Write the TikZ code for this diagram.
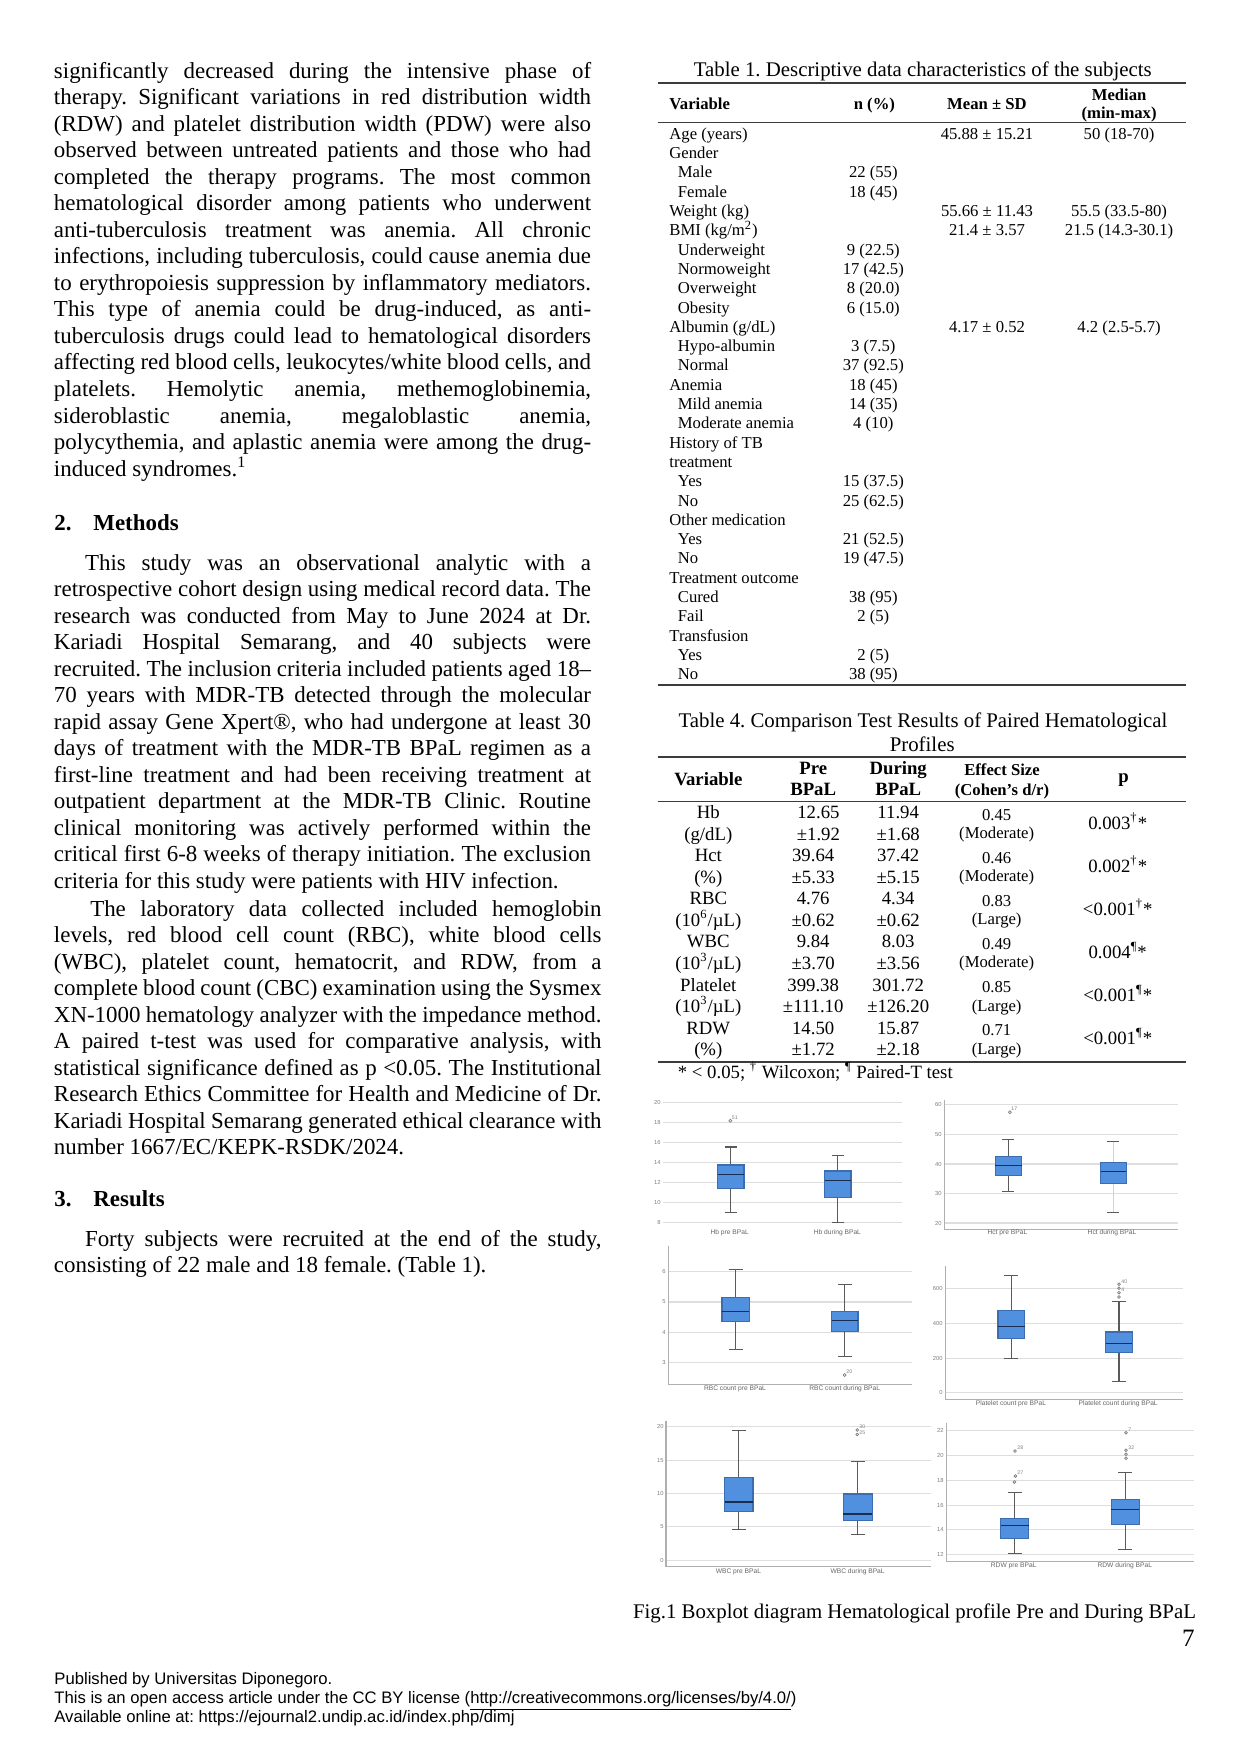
\documentclass[tikz,border=0pt]{standalone}
\usepackage{fontspec}
\setmainfont{Liberation Serif}
\newfontfamily\arialf{Liberation Sans}
\definecolor{boxblue}{RGB}{80,144,223}
\definecolor{boxedge}{RGB}{60,110,175}
\definecolor{medc}{RGB}{25,45,80}
\definecolor{gridc}{RGB}{222,222,222}
\definecolor{axisc}{RGB}{175,175,175}
\definecolor{whiskc}{RGB}{90,90,90}
\definecolor{rulec}{RGB}{60,60,60}
\newcommand\JL[1]{\hbox to\hsize{#1}}
\newcommand\LL[1]{\hbox{#1}}
\tikzset{
 body/.style={inner sep=0pt, outer sep=0pt, font=\fontsize{11}{12.74}\selectfont, anchor=base west},
 headl/.style={inner sep=0pt, font=\fontsize{11}{13}\selectfont\bfseries, anchor=base west},
 t1/.style={inner sep=0pt, font=\fontsize{8}{9}\selectfont},
 t1h/.style={inner sep=0pt, font=\fontsize{8}{9}\selectfont\bfseries, anchor=base},
 t4/.style={inner sep=0pt, font=\fontsize{9}{10}\selectfont, anchor=base},
 t4s/.style={inner sep=0pt, font=\fontsize{8}{9}\selectfont, anchor=base},
 t4h/.style={inner sep=0pt, font=\fontsize{9}{10}\selectfont\bfseries, anchor=base},
 t4hs/.style={inner sep=0pt, font=\fontsize{8}{9}\selectfont\bfseries, anchor=base},
 capt/.style={inner sep=0pt, font=\fontsize{10}{12}\selectfont, anchor=base},
 rulel/.style={draw=rulec, line width=0.65pt},
 gridl/.style={draw=gridc, line width=0.5pt},
 axisl/.style={draw=axisc, line width=0.5pt},
 whisk/.style={draw=whiskc, line width=0.6pt},
 bx/.style={fill=boxblue, draw=boxedge, line width=0.5pt},
 medl/.style={draw=medc, line width=0.7pt},
 tickl/.style={inner sep=0pt, font=\arialf\fontsize{2.8}{3}\selectfont, text=gray, anchor=east},
 catl/.style={inner sep=0pt, font=\arialf\fontsize{3.2}{3.5}\selectfont, text=black!60, anchor=base},
 outl/.style={draw=gray, line width=0.35pt},
 outt/.style={inner sep=0pt, font=\arialf\fontsize{2.5}{3}\selectfont, text=gray, anchor=west},
 foot/.style={inner sep=0pt, font=\arialf\fontsize{8}{9.2}\selectfont, anchor=base west},
}
% box: xl xr top bot med wtop wbot capw
\newcommand\BP[8]{%
 \draw[whisk] ({(#1+#2)/2},#6) -- ({(#1+#2)/2},#3);
 \draw[whisk] ({(#1+#2)/2},#4) -- ({(#1+#2)/2},#7);
 \draw[whisk] ({(#1+#2)/2-#8},#6) -- ({(#1+#2)/2+#8},#6);
 \draw[whisk] ({(#1+#2)/2-#8},#7) -- ({(#1+#2)/2+#8},#7);
 \draw[bx] (#1,#3) rectangle (#2,#4);
 \draw[medl] (#1,#5) -- (#2,#5);}
\newcommand\TL[2]{\node[t1,anchor=base west] (t1l#1) at (669,{139.3+19.3*#1}) {#2};}
\newcommand\TI[2]{\node[t1,anchor=base west] (t1l#1) at (677.5,{139.3+19.3*#1}) {#2};}
\newcommand\TN[2]{\node[t1,anchor=base] (t1n#1) at (873.3,{139.3+19.3*#1}) {#2};}
\newcommand\TM[3]{\node[t1,anchor=base] (t1m#1) at (987,{139.3+19.3*#1}) {#2};
 \node[t1,anchor=base] (t1d#1) at (1119.1,{139.3+19.3*#1}) {#3};}
% table 4 row: k, var1, var2, pre1, pre2, dur1, dur2, eff1, eff2
\newcommand\FR[9]{%
 \node[t4] (t4va#1) at (708.3,{818.6+43.1*#1}) {#2};
 \node[t4] (t4vb#1) at (708.3,{818.6+43.1*#1+21.55}) {#3};
 \node[t4] (t4pa#1) at (\prex,{818.6+43.1*#1}) {#4};
 \node[t4] (t4pb#1) at (\prex,{818.6+43.1*#1+21.55}) {#5};
 \node[t4] (t4da#1) at (898.2,{818.6+43.1*#1}) {#6};
 \node[t4] (t4db#1) at (898.2,{818.6+43.1*#1+21.55}) {#7};
 \node[t4s] (t4ea#1) at (996.7,{818.6+43.1*#1+1.5}) {#8};
 \node[t4s] (t4eb#1) at (996.7,{818.6+43.1*#1+21.55-1.5}) {#9};}
\newcommand\FP[2]{\node[t4] (t4p#1) at (1117.7,{818.6+43.1*#1+10.8}) {#2};}
\def\prex{813.2}
\begin{document}
\frenchspacing
\begin{tikzpicture}[x=0.48pt,y=-0.48pt]
\fill[white] (0,0) rectangle (1241,1754);
\useasboundingbox (0,0) rectangle (1241,1754);

% ---------------- left column ----------------
\node[body] (para1) at (54,78) {\vtop{\hsize=257.8pt\baselineskip=12.74pt\lineskiplimit=-100pt
\JL{significantly decreased during the intensive phase of}
\JL{therapy. Significant variations in red distribution width}
\JL{(RDW) and platelet distribution width (PDW) were also}
\JL{observed between untreated patients and those who had}
\JL{completed the therapy programs. The most common}
\JL{hematological disorder among patients who underwent}
\JL{anti-tuberculosis treatment was anemia. All chronic}
\JL{infections, including tuberculosis, could cause anemia due}
\JL{to erythropoiesis suppression by inflammatory mediators.}
\JL{This type of anemia could be drug-induced, as anti-}
\JL{tuberculosis drugs could lead to hematological disorders}
\JL{affecting red blood cells, leukocytes/white blood cells, and}
\JL{platelets. Hemolytic anemia, methemoglobinemia,}
\JL{sideroblastic anemia, megaloblastic anemia,}
\JL{polycythemia, and aplastic anemia were among the drug-}
\LL{induced syndromes.\textsuperscript{1}}}};

\node[headl] (h2n) at (54,530) {2.};
\node[headl] (h2t) at (93,530) {Methods};

\node[body] (para2) at (54,570) {\vtop{\hsize=257.8pt\baselineskip=12.74pt\lineskiplimit=-100pt
\JL{\hskip 14.9pt This study was an observational analytic with a}
\JL{retrospective cohort design using medical record data. The}
\JL{research was conducted from May to June 2024 at Dr.}
\JL{Kariadi Hospital Semarang, and 40 subjects were}
\JL{recruited. The inclusion criteria included patients aged 18--}
\JL{70 years with MDR-TB detected through the molecular}
\JL{rapid assay Gene Xpert®, who had undergone at least 30}
\JL{days of treatment with the MDR-TB BPaL regimen as a}
\JL{first-line treatment and had been receiving treatment at}
\JL{outpatient department at the MDR-TB Clinic. Routine}
\JL{clinical monitoring was actively performed within the}
\JL{critical first 6-8 weeks of therapy initiation. The exclusion}
\LL{criteria for this study were patients with HIV infection.}}};

\node[body] (para3) at (54,916) {\vtop{\hsize=262.8pt\baselineskip=12.74pt\lineskiplimit=-100pt
\JL{\hskip 17.4pt The laboratory data collected included hemoglobin}
\JL{levels, red blood cell count (RBC), white blood cells}
\JL{(WBC), platelet count, hematocrit, and RDW, from a}
\JL{complete blood count (CBC) examination using the Sysmex}
\JL{XN-1000 hematology analyzer with the impedance method.}
\JL{A paired t-test was used for comparative analysis, with}
\JL{statistical significance defined as p <0.05. The Institutional}
\JL{Research Ethics Committee for Health and Medicine of Dr.}
\JL{Kariadi Hospital Semarang generated ethical clearance with}
\LL{number 1667/EC/KEPK-RSDK/2024.}}};

\node[headl] (h3n) at (54,1206) {3.};
\node[headl] (h3t) at (93,1206) {Results};

\node[body] (para4) at (54,1246) {\vtop{\hsize=262.8pt\baselineskip=12.74pt\lineskiplimit=-100pt
\JL{\hskip 14.9pt Forty subjects were recruited at the end of the study,}
\LL{consisting of 22 male and 18 female. (Table 1).}}};

% ---------------- Table 1 ----------------
\node[capt] (t1cap) at (922.8,76.5) {Table 1. Descriptive data characteristics of the subjects};
\draw[rulel] (657.6,83) -- (1185.5,83);
\node[t1h,anchor=base west] (t1hv) at (669,109) {Variable};
\node[t1h] (t1hn) at (874.4,109) {n (\%)};
\node[t1h] (t1hm) at (986.9,109) {Mean ± SD};
\node[t1h] (t1hd1) at (1119.1,100) {Median};
\node[t1h] (t1hd2) at (1119.1,118.7) {(min-max)};
\draw[rulel] (657.6,122.5) -- (1185.5,122.5);
\TL{0}{Age (years)}\TM{0}{45.88 ± 15.21}{50 (18-70)}
\TL{1}{Gender}
\TI{2}{Male}\TN{2}{22 (55)}
\TI{3}{Female}\TN{3}{18 (45)}
\TL{4}{Weight (kg)}\TM{4}{55.66 ± 11.43}{55.5 (33.5-80)}
\TL{5}{BMI (kg/m\textsuperscript{2})}\TM{5}{21.4 ± 3.57}{21.5 (14.3-30.1)}
\TI{6}{Underweight}\TN{6}{9 (22.5)}
\TI{7}{Normoweight}\TN{7}{17 (42.5)}
\TI{8}{Overweight}\TN{8}{8 (20.0)}
\TI{9}{Obesity}\TN{9}{6 (15.0)}
\TL{10}{Albumin (g/dL)}\TM{10}{4.17 ± 0.52}{4.2 (2.5-5.7)}
\TI{11}{Hypo-albumin}\TN{11}{3 (7.5)}
\TI{12}{Normal}\TN{12}{37 (92.5)}
\TL{13}{Anemia}\TN{13}{18 (45)}
\TI{14}{Mild anemia}\TN{14}{14 (35)}
\TI{15}{Moderate anemia}\TN{15}{4 (10)}
\TL{16}{History of TB}
\TL{17}{treatment}
\TI{18}{Yes}\TN{18}{15 (37.5)}
\TI{19}{No}\TN{19}{25 (62.5)}
\TL{20}{Other medication}
\TI{21}{Yes}\TN{21}{21 (52.5)}
\TI{22}{No}\TN{22}{19 (47.5)}
\TL{23}{Treatment outcome}
\TI{24}{Cured}\TN{24}{38 (95)}
\TI{25}{Fail}\TN{25}{2 (5)}
\TL{26}{Transfusion}
\TI{27}{Yes}\TN{27}{2 (5)}
\TI{28}{No}\TN{28}{38 (95)}
\draw[rulel] (657.6,685) -- (1185.5,685);

% ---------------- Table 4 ----------------
\node[capt] (t4cap1) at (923,727) {Table 4. Comparison Test Results of Paired Hematological};
\node[capt] (t4cap2) at (922.2,751) {Profiles};
\draw[rulel] (657.6,757) -- (1185.5,757);
\node[t4h] (t4hv) at (708.3,785.3) {Variable};
\node[t4h] (t4hp1) at (813.2,774.6) {Pre};
\node[t4h] (t4hp2) at (813.2,795.3) {BPaL};
\node[t4h] (t4hd1) at (898.2,774.6) {During};
\node[t4h] (t4hd2) at (898.2,795.3) {BPaL};
\node[t4hs] (t4he1) at (1002,775.3) {Effect Size};
\node[t4hs] (t4he2) at (1002,795.3) {(Cohen's d/r)};
\node[t4h] (t4hpv) at (1123.6,782.6) {p};
\draw[rulel] (657.6,801.5) -- (1185.5,801.5);
\def\prex{818.4}
\FR{0}{Hb}{(g/dL)}{12.65}{±1.92}{11.94}{±1.68}{0.45}{(Moderate)}
\def\prex{813.2}
\FR{1}{Hct}{(\%)}{39.64}{±5.33}{37.42}{±5.15}{0.46}{(Moderate)}
\FR{2}{RBC}{(10\textsuperscript{6}/µL)}{4.76}{±0.62}{4.34}{±0.62}{0.83}{(Large)}
\FR{3}{WBC}{(10\textsuperscript{3}/µL)}{9.84}{±3.70}{8.03}{±3.56}{0.49}{(Moderate)}
\FR{4}{Platelet}{(10\textsuperscript{3}/µL)}{399.38}{±111.10}{301.72}{±126.20}{0.85}{(Large)}
\FR{5}{RDW}{(\%)}{14.50}{±1.72}{15.87}{±2.18}{0.71}{(Large)}
\FP{0}{0.003\textsuperscript{†}*}
\FP{1}{0.002\textsuperscript{†}*}
\FP{2}{<0.001\textsuperscript{†}*}
\FP{3}{0.004\textsuperscript{¶}*}
\FP{4}{<0.001\textsuperscript{¶}*}
\FP{5}{<0.001\textsuperscript{¶}*}
\draw[rulel] (657.6,1062) -- (1185.5,1062);
\node[inner sep=0pt, font=\fontsize{9}{10}\selectfont, anchor=base west] (t4foot) at (677.5,1078.6) {* < 0.05; \textsuperscript{†} Wilcoxon; \textsuperscript{¶} Paired-T test};

% ---------------- Boxplots ----------------
% Hb
\foreach \yy/\lab in {1102.3/20,1122.3/18,1142.3/16,1162.3/14,1182.3/12,1202.3/10,1222.3/8}{
 \draw[gridl] (663,\yy) -- (902,\yy);
 \node[tickl] at (661,\yy) {\lab};}
\BP{717.5}{744}{1165}{1188.7}{1174.3}{1147}{1212.3}{6}
\BP{824.5}{851}{1171}{1197.3}{1180.3}{1155.3}{1222.3}{6}
\draw[outl] (730.4,1120.7) circle[radius=1.5];
\node[outt] (o1) at (731.5,1117.5) {51};
\node[catl] (c1) at (729.7,1234.7) {Hb pre BPaL};
\node[catl] (c2) at (837.4,1234.7) {Hb during BPaL};
% Hct
\foreach \yy/\lab in {1104.7/60,1134.3/50,1164/40,1193.3/30,1223/20}{
 \draw[gridl] (944.7,\yy) -- (1177.5,\yy);
 \node[tickl] at (942,\yy) {\lab};}
\draw[axisl] (944.7,1099.7) -- (944.7,1229.7) -- (1177.5,1229.7);
\BP{995.2}{1021.7}{1156.3}{1175.7}{1165.3}{1139.7}{1191.3}{6}
\draw[gray!35, line width=0.4pt] (1113.3,1141.7) -- (1113.3,1162.7) (1113.3,1183.7) -- (1113.3,1212.3);
\draw[whisk] (1107.3,1141.7) -- (1119.3,1141.7);
\draw[whisk] (1107.3,1212.3) -- (1119.3,1212.3);
\draw[bx] (1100.5,1162.7) rectangle (1126.2,1183.7);
\draw[medl] (1100.5,1171.3) -- (1126.2,1171.3);
\draw[outl] (1009.9,1112.3) circle[radius=1.5];
\node[outt] (o2) at (1011,1109) {17};
\node[catl] (c3) at (1007.4,1234.7) {Hct pre BPaL};
\node[catl] (c4) at (1112,1234.7) {Hct during BPaL};
% RBC
\foreach \yy/\lab in {1271.3/6,1302/5,1332.3/4,1362.3/3}{
 \draw[gridl] (668.4,\yy) -- (911.6,\yy);
 \node[tickl] at (666,\yy) {\lab};}
\draw[axisl] (668.4,1246) -- (668.4,1384.3) -- (911.6,1384.3);
\BP{722}{749.2}{1297.3}{1321.3}{1311.3}{1269.3}{1349.3}{7}
\BP{831.5}{858}{1311.3}{1331.3}{1320.3}{1284.7}{1356.3}{7}
\draw[outl] (844.7,1375) circle[radius=1.5];
\node[outt] (o3) at (846,1372) {20};
\node[catl] (c5) at (735,1390) {RBC count pre BPaL};
\node[catl] (c6) at (844.7,1390) {RBC count during BPaL};
% Platelet
\foreach \yy/\lab in {1288.3/600,1323.3/400,1358.3/200,1392.7/0}{
 \draw[gridl] (945.4,\yy) -- (1183.4,\yy);
 \node[tickl] at (943,\yy) {\lab};}
\draw[axisl] (945.4,1266) -- (945.4,1399.3) -- (1183.4,1399.3);
\BP{998}{1024.5}{1310.3}{1338.7}{1326.3}{1275.3}{1358.3}{7}
\BP{1105.7}{1132.2}{1332}{1352.3}{1343.3}{1301.7}{1381.3}{7}
\foreach \yy in {1284.3,1288.3,1292.7,1297}{\draw[outl] (1119,\yy) circle[radius=1.4];}
\node[outt] (o4) at (1121,1282) {40};
\node[outt] (o5) at (1121,1290) {4};
\node[catl] (c7) at (1011,1405.3) {Platelet count pre BPaL};
\node[catl] (c8) at (1118.2,1405.3) {Platelet count during BPaL};
% WBC
\foreach \yy/\lab in {1426.7/20,1460.3/15,1493.3/10,1526.3/5,1560/0}{
 \draw[gridl] (666,\yy) -- (930.8,\yy);
 \node[tickl] at (664,\yy) {\lab};}
\draw[axisl] (666,1421) -- (666,1566.7) -- (930.8,1566.7);
\BP{724.5}{753}{1477.3}{1511.3}{1502}{1430.7}{1529.3}{7}
\BP{843.3}{872.2}{1494}{1520.3}{1514}{1461.3}{1534.3}{7}
\draw[outl] (857.3,1430) circle[radius=1.4];
\draw[outl] (857.3,1434.5) circle[radius=1.4];
\node[outt] (o6) at (859,1427) {30};
\node[outt] (o7) at (859,1433) {25};
\node[catl] (c9) at (738.4,1573) {WBC pre BPaL};
\node[catl] (c10) at (857.6,1573) {WBC during BPaL};
% RDW
\foreach \yy/\lab in {1430.7/22,1455.3/20,1480.3/18,1505.3/16,1529.7/14,1554.3/12}{
 \draw[gridl] (946.5,\yy) -- (1193.8,\yy);
 \node[tickl] at (944,\yy) {\lab};}
\draw[axisl] (946.5,1422.7) -- (946.5,1561) -- (1193.8,1561);
\BP{1000.8}{1028.7}{1518.3}{1538.3}{1525.3}{1492.3}{1553.3}{7}
\BP{1111.3}{1139.1}{1499.3}{1524.3}{1509.3}{1472.7}{1549.3}{7}
\draw[outl] (1015,1451) circle[radius=1.4];
\draw[outl] (1015.4,1476) circle[radius=1.4];
\draw[outl] (1014.4,1482) circle[radius=1.4];
\node[outt] (o8) at (1017,1448) {28};
\node[outt] (o9) at (1017,1473) {27};
\draw[outl] (1126,1432.7) circle[radius=1.4];
\draw[outl] (1126,1450.3) circle[radius=1.4];
\draw[outl] (1126,1454.3) circle[radius=1.4];
\draw[outl] (1126,1458.3) circle[radius=1.4];
\node[outt] (o10) at (1128,1429.5) {7};
\node[outt] (o11) at (1128,1447.5) {32};
\node[catl] (c11) at (1013.7,1567.3) {RDW pre BPaL};
\node[catl] (c12) at (1124.8,1567.3) {RDW during BPaL};

% ---------------- caption, page number, footer ----------------
\node[capt] (figcap) at (914.5,1618) {Fig.1 Boxplot diagram Hematological profile Pre and During BPaL};
\node[inner sep=0pt, font=\fontsize{12}{14}\selectfont, anchor=base east] (pgno) at (1195,1646) {7};
\node[foot] (f1) at (54,1684.5) {Published by Universitas Diponegoro.};
\node[foot] (f2) at (54,1703.5) {This is an open access article under the CC BY license (\underline{http://creativecommons.org/licenses/by/4.0/})};
\node[foot] (f3) at (54,1722.5) {Available online at: https://ejournal2.undip.ac.id/index.php/dimj};
\end{tikzpicture}
\end{document}
